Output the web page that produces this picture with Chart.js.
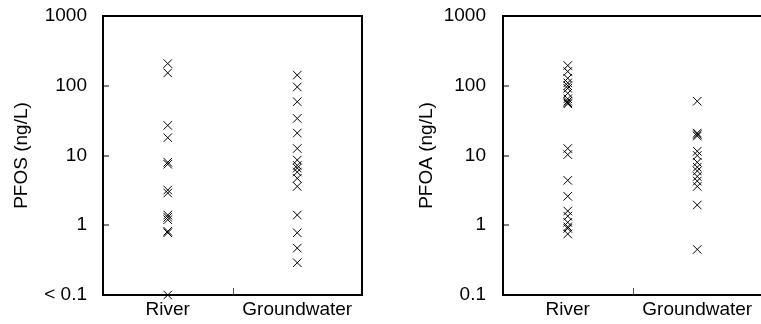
<!DOCTYPE html>
<html>
<head>
<meta charset="utf-8">
<script src="https://cdn.jsdelivr.net/npm/chart.js@4/dist/chart.umd.min.js"></script>
<style>
    html, body { margin: 0; padding: 0; background: #fff; }
    body { width: 761px; height: 324px; position: relative; overflow: hidden; }
    .panel { position: absolute; top: 0; height: 324px; }
    #pfos-wrap { left: 0; width: 380px; }
    #pfoa-wrap { left: 380px; width: 400px; }
</style>
</head>
<body>
<div class="panel" id="pfos-wrap"><canvas id="pfos-chart"></canvas></div>
<div class="panel" id="pfoa-wrap"><canvas id="pfoa-chart"></canvas></div>
<script>
// ============ DATA ============
const categories = ['River', 'Groundwater'];
const tickValues = [0.1, 1, 10, 100, 1000];
const pfosTickLabels = ['< 0.1', '1', '10', '100', '1000'];
const pfoaTickLabels = ['0.1', '1', '10', '100', '1000'];

// PFOS (ng/L)
const pfosRiver = [208, 153, 27, 18, 8, 7.5, 3.2, 2.9, 1.4, 1.3, 1.2, 0.82, 0.78, 0.1];
const pfosGroundwater = [142, 96, 59, 34, 21, 12.6, 8.6, 7.2, 6.6, 5.8, 4.7, 3.6, 1.4, 0.78, 0.47, 0.29];

// PFOA (ng/L)
const pfoaRiver = [195, 160, 128, 110, 100, 92, 78, 65, 60, 57, 55, 12.6, 10.3, 4.4, 2.6, 1.6, 1.35, 1.1, 0.95, 0.9, 0.75];
const pfoaGroundwater = [60, 21, 20, 19, 11.5, 10, 8, 6.8, 6, 5, 4.3, 3.6, 1.95, 0.45];

const FONT = 'Arial, "Liberation Sans", sans-serif';

// ============ PLUGINS ============
// box around the plot + short inward ticks (excel style)
const framePlugin = {
    id: 'frame',
    beforeDatasetsDraw(chart) {
        const { ctx, chartArea: a, scales } = chart;
        ctx.save();

        // y ticks, grey, pointing into the plot
        ctx.strokeStyle = '#808080';
        ctx.lineWidth = 2;
        tickValues.forEach(v => {
            const y = Math.round(scales.y.getPixelForValue(v));
            ctx.beginPath();
            ctx.moveTo(a.left, y);
            ctx.lineTo(a.left + 6, y);
            ctx.stroke();
        });

        // x tick between the two categories
        const midX = Math.round((scales.x.getPixelForValue(0) + scales.x.getPixelForValue(1)) / 2) + 0.5;
        ctx.strokeStyle = '#555';
        ctx.lineWidth = 1;
        ctx.beginPath();
        ctx.moveTo(midX, a.bottom);
        ctx.lineTo(midX, a.bottom - 7);
        ctx.stroke();

        ctx.strokeStyle = '#000';
        ctx.lineWidth = 2;
        ctx.strokeRect(a.left, a.top, a.right - a.left, a.bottom - a.top);
        ctx.restore();
    }
};

// ============ CHART ============
function toPoints(category, values) {
    return values.map(v => ({ x: category, y: v }));
}

function makeChart(canvasId, title, tickLabels, river, groundwater, axisWidth, titlePad, labelPad) {
    const ctx = document.getElementById(canvasId).getContext('2d');
    const pointStyle = {
        showLine: false,
        pointStyle: 'crossRot',
        pointRadius: 6,
        pointBorderWidth: 1,
        borderColor: '#000',
        backgroundColor: '#000',
        clip: false
    };

    return new Chart(ctx, {
        type: 'line',
        data: {
            labels: categories,
            datasets: [
                Object.assign({ data: toPoints(categories[0], river) }, pointStyle),
                Object.assign({ data: toPoints(categories[1], groundwater) }, pointStyle)
            ]
        },
        options: {
            responsive: true,
            maintainAspectRatio: false,
            animation: false,
            events: [],
            layout: { padding: { top: 16, right: 18, left: 0, bottom: 0 } },
            plugins: {
                legend: { display: false },
                tooltip: { enabled: false }
            },
            scales: {
                x: {
                    type: 'category',
                    offset: true,
                    grid: { display: false, drawTicks: false },
                    border: { display: false },
                    ticks: {
                        color: '#000',
                        font: { family: FONT, size: 19 },
                        padding: 3,
                        maxRotation: 0
                    },
                    afterFit(scale) { scale.height = 29; }
                },
                y: {
                    type: 'logarithmic',
                    min: 0.1,
                    max: 1000,
                    grid: { display: false, drawTicks: false },
                    border: { display: false },
                    afterBuildTicks(scale) {
                        scale.ticks = tickValues.map(v => ({ value: v }));
                    },
                    ticks: {
                        autoSkip: false,
                        color: '#000',
                        font: { family: FONT, size: 19 },
                        padding: labelPad,
                        callback: (val, i) => tickLabels[i]
                    },
                    title: {
                        display: true,
                        text: title,
                        color: '#000',
                        font: { family: FONT, size: 19 },
                        padding: { top: titlePad, bottom: 0 }
                    },
                    afterFit(scale) {
                        scale.width = axisWidth;
                        // tick padding gets added above/below too, don't want that
                        scale.paddingTop = 12;
                        scale.paddingBottom = 12;
                    }
                }
            }
        },
        plugins: [framePlugin]
    });
}

// ============ INIT ============
makeChart('pfos-chart', 'PFOS (ng/L)', pfosTickLabels, pfosRiver, pfosGroundwater, 103, 10, 16);
makeChart('pfoa-chart', 'PFOA (ng/L)', pfoaTickLabels, pfoaRiver, pfoaGroundwater, 123, 35, 17);
</script>
</body>
</html>
